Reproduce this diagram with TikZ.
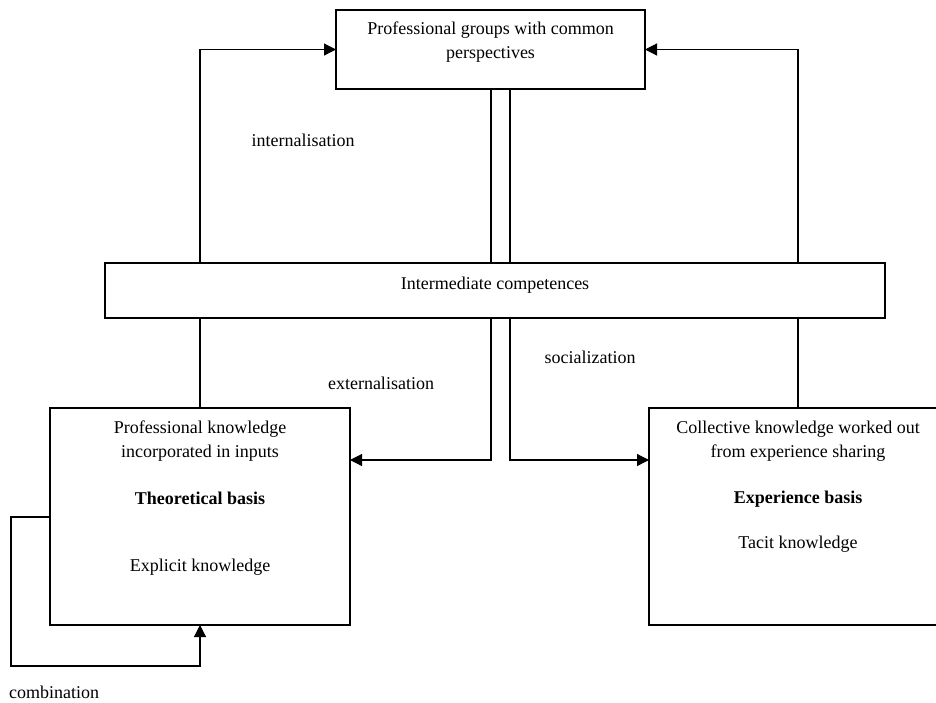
\documentclass[tikz,border=0pt]{standalone}
\usepackage{fontspec}
\setmainfont{Liberation Serif}
\usetikzlibrary{arrows.meta,backgrounds}
\begin{document}
\begin{tikzpicture}[x=1pt,y=-1pt,
  box/.style={draw,line width=1.2pt,inner sep=0pt,outer sep=0pt,fill=white},
  txt/.style={font=\fontsize{18}{23.5}\selectfont,inner sep=0pt,align=center},
  arr/.style={-{Triangle[length=12pt,width=12pt]},line width=1.2pt},
  conn/.style={line width=1.2pt}]
\useasboundingbox (0,0) rectangle (936,702);
\clip (0,0) rectangle (936,702);
% boxes
\node[box,minimum width=309pt,minimum height=79pt] (top) at (490.5,49.5) {};
\node[box,minimum width=780pt,minimum height=55pt] (inter) at (495,290.5) {};
\node[box,minimum width=300pt,minimum height=217pt] (left) at (200,516.5) {};
\node[box,minimum width=298pt,minimum height=217pt] (right) at (798,516.5) {};
% texts
\node[txt] (t1) at (490.5,42) {Professional groups with common\\perspectives};
\node[txt] (t2) at (495,285) {Intermediate competences};
\node[txt] (l1) at (200,441) {Professional knowledge\\incorporated in inputs};
\node[txt,font=\fontsize{18}{23.5}\selectfont\bfseries] (l2) at (200,498) {Theoretical basis};
\node[txt] (l3) at (200,567) {Explicit knowledge};
\node[txt] (r1) at (798,441) {Collective knowledge worked out\\from experience sharing};
\node[txt,font=\fontsize{18}{23.5}\selectfont\bfseries] (r2) at (798,499) {Experience basis};
\node[txt] (r3) at (798,544) {Tacit knowledge};
% labels
\node[txt] (lint) at (303,140) {internalisation};
\node[txt] (lext) at (381,383) {externalisation};
\node[txt] (lsoc) at (590,357) {socialization};
\node[txt] (lcom) at (54,692) {combination};
% connectors
\coordinate (ml) at (491,460);
\coordinate (mr) at (510,460);
\coordinate (c1) at (11,517);
\coordinate (c2) at (11,666);
\begin{scope}[on background layer]
\draw[arr] (left.north) |- (top.west);
\draw[arr] (right.north) |- (top.east);
\draw[arr] (top.south -| ml) -- (ml) -- (ml -| left.east);
\draw[arr] (top.south -| mr) -- (mr) -- (mr -| right.west);
\end{scope}
\draw[arr] (left.west |- c1) -- (c1) -- (c2) -- (c2 -| left.south) -- (left.south);
\end{tikzpicture}
\end{document}
